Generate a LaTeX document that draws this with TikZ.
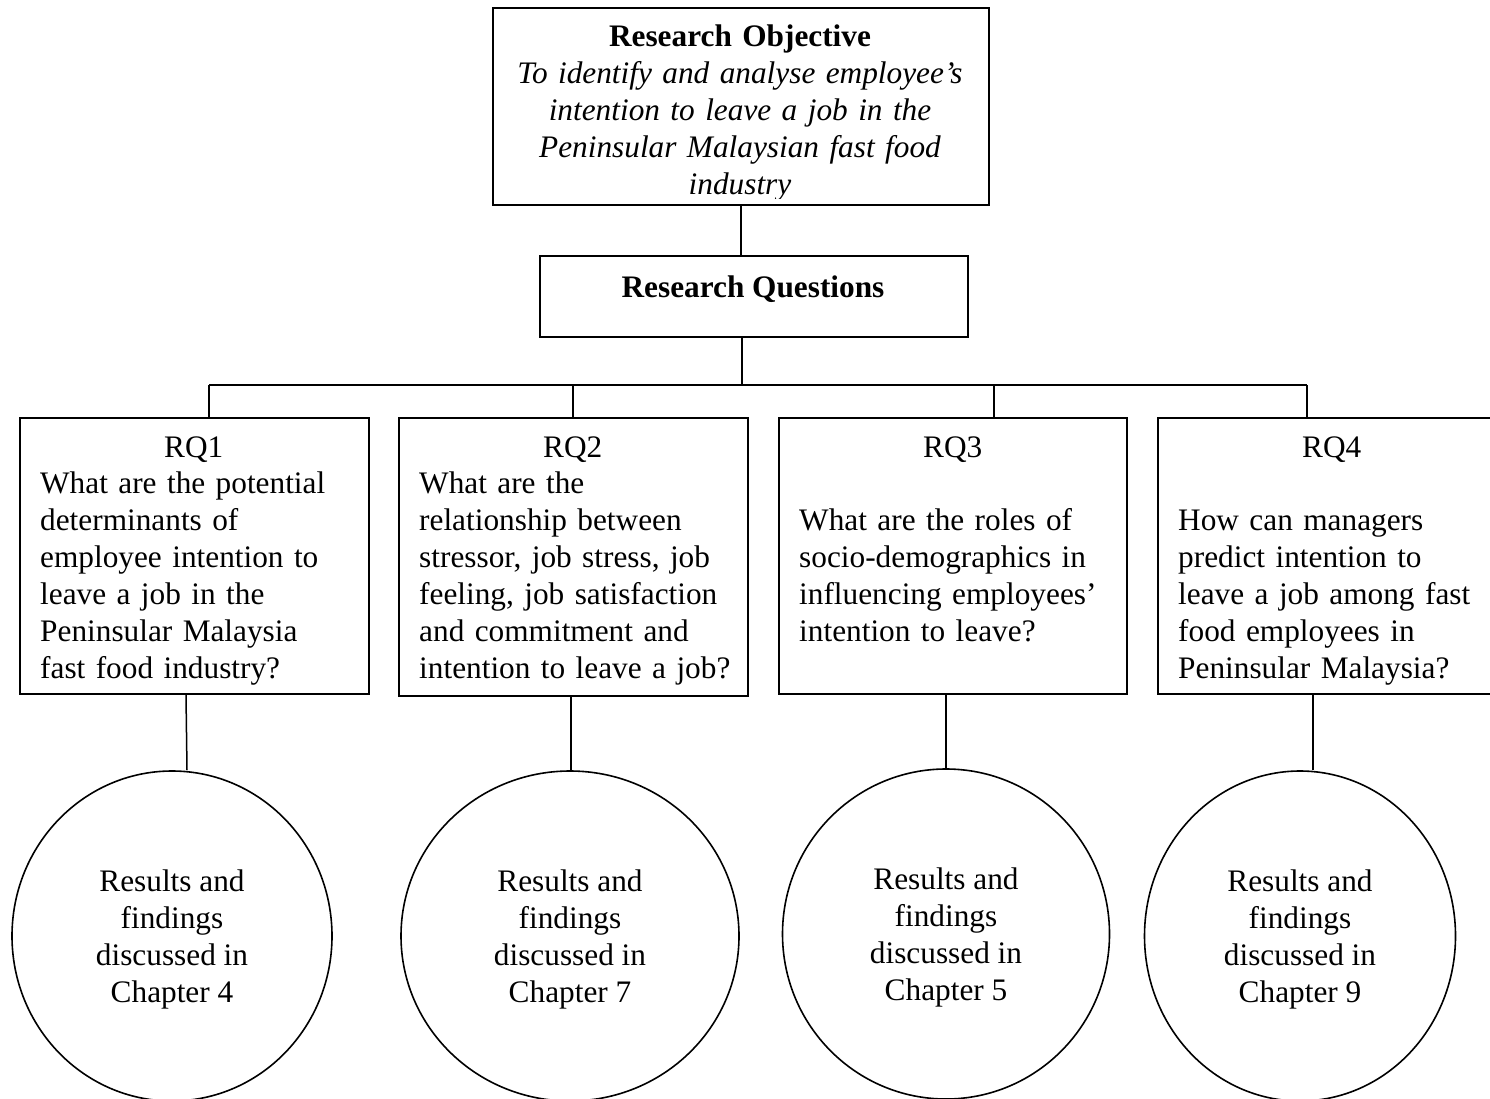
\documentclass[tikz,border=0pt]{standalone}
\usepackage{fontspec}
\setmainfont{Liberation Serif}
\usetikzlibrary{shapes.geometric}
\newcommand\rqhead[1]{\makebox[307pt]{#1}}
\begin{document}
\begin{tikzpicture}[x=1pt,y=-1pt,
  box/.style={draw,line width=2pt,rectangle,inner sep=0pt,anchor=north west},
  link/.style={line width=1.5pt},
  txt/.style={inner sep=0pt,font=\fontsize{31.3}{36.9}\selectfont},
  ring/.style={draw,ellipse,line width=1.6pt,inner sep=0pt,align=center,
    font=\fontsize{31.3}{36.9}\selectfont}]
\useasboundingbox (0,0) rectangle (1490,1099);
\clip (0,0) rectangle (1490,1099);

% boxes
\node[box,minimum width=496pt,minimum height=197pt] (obj) at (492,7) {};
\node[box,minimum width=428pt,minimum height=81pt] (rqs) at (539,255) {};
\node[box,minimum width=349pt,minimum height=276pt] (rq1) at (19,417) {};
\node[box,minimum width=349pt,minimum height=278pt] (rq2) at (398,417) {};
\node[box,minimum width=348pt,minimum height=276pt] (rq3) at (778,417) {};
\node[box,minimum width=349pt,minimum height=276pt] (rq4) at (1157,417) {};

% texts
\begin{scope}
\clip (492,7) rectangle (988,199);
\node[txt,text width=490pt,align=center,anchor=base] (objt) at (740,47)
  {\textbf{Research Objective}\\ \itshape To identify and analyse employee’s\\
   intention to leave a job in the\\ Peninsular Malaysian fast food\\ industry};
\end{scope}
\node[txt,anchor=base] (rqst) at (753,297) {\textbf{Research Questions}};

\node[txt,text width=330pt,align=left,anchor=base west] (rq1t) at (40,457)
  {\rqhead{RQ1}\\What are the potential\\determinants of\\employee intention to\\
   leave a job in the\\Peninsular Malaysia\\fast food industry?};
\node[txt,text width=330pt,align=left,anchor=base west] (rq2t) at (419,457)
  {\rqhead{RQ2}\\What are the\\relationship between\\stressor, job stress, job\\
   feeling, job satisfaction\\and commitment and\\intention to leave a job?};
\node[txt,text width=330pt,align=left,anchor=base west] (rq3t) at (799,457)
  {\rqhead{RQ3}\\\mbox{}\\What are the roles of\\socio-demographics in\\
   influencing employees’\\intention to leave?};
\node[txt,text width=330pt,align=left,anchor=base west] (rq4t) at (1178,457)
  {\rqhead{RQ4}\\\mbox{}\\How can managers\\predict intention to\\
   leave a job among fast\\food employees in\\Peninsular Malaysia?};

% result circles
\node[ring,minimum width=320pt,minimum height=330pt] (c1) at (172,936)
  {\\[-8pt]Results and\\findings\\discussed in\\Chapter 4};
\node[ring,minimum width=338pt,minimum height=330pt] (c2) at (570,936)
  {\\[-8pt]Results and\\findings\\discussed in\\Chapter 7};
\node[ring,minimum width=327pt,minimum height=330pt] (c3) at (946,934)
  {\\[-8pt]Results and\\findings\\discussed in\\Chapter 5};
\node[ring,minimum width=311pt,minimum height=330pt] (c4) at (1300,936)
  {\\[-8pt]Results and\\findings\\discussed in\\Chapter 9};

% connectors
\coordinate (hub) at (742,385);
\coordinate (d1) at (209,385);
\coordinate (d2) at (573,385);
\coordinate (d3) at (994,385);
\coordinate (d4) at (1307,385);
\draw[link] (obj.south) -- (obj.south |- rqs.north);
\draw[link] (rqs.south -| hub) -- (hub);
\draw[link] (d1) -- (d4);
\draw[link] (d1) -- (d1 |- rq1.north);
\draw[link] (d2) -- (d2 |- rq2.north);
\draw[link] (d3) -- (d3 |- rq3.north);
\draw[link] (d4) -- (d4 |- rq4.north);
\draw[link] (rq1.south -| 186,0) -- (c1.north -| 187,0);
\draw[link] (rq2.south -| 571,0) -- (c2.north -| 571,0);
\draw[link] (rq3.south -| 946,0) -- (c3.north -| 946,0);
\draw[link] (rq4.south -| 1313,0) -- (c4.north -| 1313,0);
\end{tikzpicture}
\end{document}
